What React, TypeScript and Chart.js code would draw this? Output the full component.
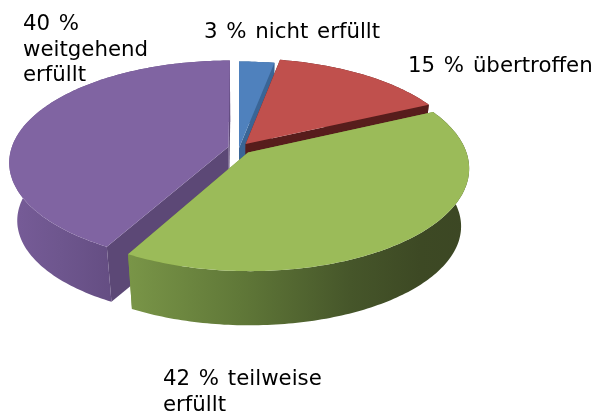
import React, { useEffect, useRef } from "react";
import { Chart, registerables } from "chart.js";

Chart.register(...registerables);

const categories = ["nicht erfüllt", "übertroffen", "teilweise erfüllt", "weitgehend erfüllt"];
// Slice shares as they appear in the drawn pie (green spans 40 %, purple 42 %).
const sliceShares = [3, 15, 40, 42];
const explode = [0.0, 0.05, 0.06, 0.05];
const topColors = ["#4F81BD", "#C0504D", "#9BBB59", "#8064A2"];
const cutColors = ["#3A6596", "#571D1C", "#76923C", "#5C4876"];
const wallStops: [number, string][][] = [
  [[0, "#3A6596"], [1, "#3A6596"]],
  [[0, "#571D1C"], [1, "#571D1C"]],
  [[125, "#7A9648"], [240, "#607838"], [350, "#46562A"], [420, "#3D4924"], [470, "#3C4724"]],
  [[10, "#775C98"], [60, "#6E568E"], [115, "#644D82"]],
];
const drawOrder = [0, 1, 3, 2];
const labelTexts = [
  { lines: ["3 % nicht erfüllt"], x: 204, y: 38 },
  { lines: ["15 % übertroffen"], x: 408, y: 72 },
  { lines: ["42 % teilweise", "erfüllt"], x: 163, y: 385 },
  { lines: ["40 %", "weitgehend", "erfüllt"], x: 23, y: 30 },
];

const CX = 239, CY = 148, A = 217, B = 99.5, P = 0.15, SHRINK = 0.965, DEPTH = 58.5;

function project(X: number, F: number, level: number): [number, number] {
  const w = 1 - P * F;
  let x = (A * X) / w;
  let y = (B * F) / w;
  if (level) {
    x *= SHRINK;
    y = y * SHRINK + DEPTH;
  }
  return [CX + x, CY + y];
}

function fillPoly(ctx: CanvasRenderingContext2D, pts: [number, number][], fill: any) {
  ctx.beginPath();
  pts.forEach((p, i) => (i ? ctx.lineTo(p[0], p[1]) : ctx.moveTo(p[0], p[1])));
  ctx.closePath();
  ctx.fillStyle = fill;
  ctx.fill();
}

const tiltedPie = {
  id: "tiltedPie",
  beforeDatasetsDraw(chart: any) {
    const ctx: CanvasRenderingContext2D = chart.ctx;
    const arcs = chart.getDatasetMeta(0).data;
    for (const i of drawOrder) {
      const a0 = arcs[i].startAngle + Math.PI / 2;
      const a1 = arcs[i].endAngle + Math.PI / 2;
      const mid = (a0 + a1) / 2;
      const ex = explode[i] * Math.sin(mid);
      const ef = -explode[i] * Math.cos(mid);
      const ring = (level: number) => {
        const pts: [number, number][] = [];
        const n = Math.max(4, Math.ceil(((a1 - a0) * 180) / Math.PI));
        for (let k = 0; k <= n; k++) {
          const t = a0 + ((a1 - a0) * k) / n;
          pts.push(project(Math.sin(t) + ex, -Math.cos(t) + ef, level));
        }
        return pts;
      };
      const top = ring(0);
      const bot = ring(1);
      const apexTop = project(ex, ef, 0);
      const apexBot = project(ex, ef, 1);
      // cut faces
      fillPoly(ctx, [apexTop, top[0], bot[0], apexBot], cutColors[i]);
      fillPoly(ctx, [apexTop, top[top.length - 1], bot[bot.length - 1], apexBot], cutColors[i]);
      // outer wall
      const stops = wallStops[i];
      const x0 = stops[0][0] || 0;
      const x1 = stops[stops.length - 1][0] || 1;
      const grad = ctx.createLinearGradient(x0, 0, x1 === x0 ? x0 + 1 : x1, 0);
      stops.forEach(([x, c]) => grad.addColorStop(x1 > 1 ? (x - x0) / (x1 - x0) : x, c));
      fillPoly(ctx, [...top, ...bot.slice().reverse()], grad);
      // top face
      fillPoly(ctx, [apexTop, ...top], topColors[i]);
    }
    ctx.save();
    ctx.fillStyle = "#000000";
    ctx.font = "21.3px 'DejaVu Sans'";
    (ctx as any).wordSpacing = "2px";
    ctx.textAlign = "left";
    ctx.textBaseline = "alphabetic";
    for (const l of labelTexts) {
      l.lines.forEach((s, k) => ctx.fillText(s, l.x, l.y + k * 25.7));
    }
    ctx.restore();
    return false;
  },
};

export default function App() {
  const ref = useRef<HTMLCanvasElement>(null);
  useEffect(() => {
    const chart = new Chart(ref.current!, {
      type: "pie",
      data: {
        labels: categories,
        datasets: [{ data: sliceShares, backgroundColor: topColors, borderWidth: 0 }],
      },
      options: {
        animation: false,
        responsive: false,
        plugins: { legend: { display: false }, tooltip: { enabled: false } },
      },
      plugins: [tiltedPie],
    } as any);
    return () => chart.destroy();
  }, []);
  return (
    <canvas
      ref={ref}
      width={596}
      height={412}
      style={{ position: "absolute", left: 0, top: 0, width: 596, height: 412, display: "block" }}
    />
  );
}
